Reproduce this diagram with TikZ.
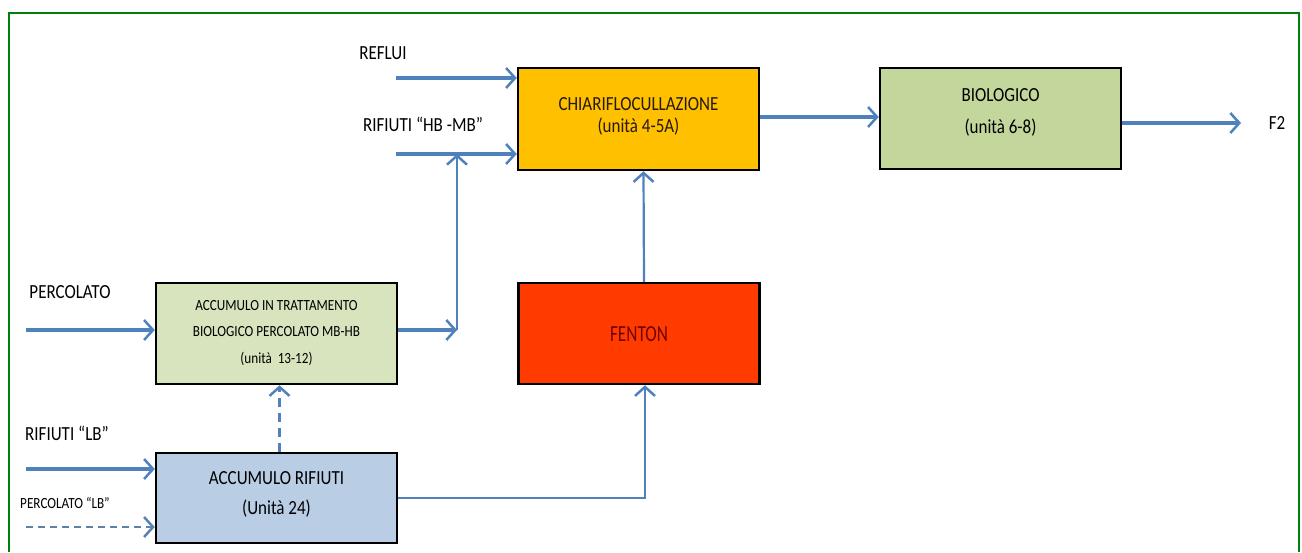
\documentclass[tikz,border=0pt]{standalone}
\usepackage{fontspec}
\setmainfont{Carlito}[FakeStretch=0.85]
\newfontfamily\narrowfont{Carlito}[FakeStretch=0.75]
\usetikzlibrary{arrows.meta}
\definecolor{framegreen}{HTML}{00800A}
\definecolor{flowblue}{HTML}{4F81BD}
\definecolor{chiarifill}{HTML}{FFC000}
\definecolor{biofill}{HTML}{C3D69B}
\definecolor{percfill}{HTML}{D7E4BD}
\definecolor{fentonfill}{HTML}{FF3B00}
\definecolor{rifiutifill}{HTML}{B9CDE5}
\newcommand{\liftup}[2]{\raisebox{#1}[\height][\depth]{\begin{tabular}{@{}c@{}}#2\end{tabular}}}
\begin{document}
\begin{tikzpicture}[x=1pt,y=-1pt,
  box/.style={draw=black,line width=2.5pt,minimum width=241pt,minimum height=101pt,align=center,inner sep=0pt},
  flow/.style={draw=flowblue,line width=3.5pt,-{Straight Barb[length=9pt,width=20pt,line width=2.5pt]}},
  link/.style={flow,line width=2.2pt},
  big/.style={font=\fontsize{20}{24}\selectfont},
  small/.style={font=\fontsize{15.5}{19}\selectfont}]
\useasboundingbox (0,0) rectangle (1302,552);
\draw[framegreen,line width=2.5pt] (9,552) -- (9,13) -- (1299,13) -- (1299,552);

\node[box,fill=chiarifill,minimum height=102pt,text=black!80!brown,font=\fontsize{20}{22}\selectfont] (chiari) at (638.5,119) {\liftup{1.5pt}{CHIARIFLOCULLAZIONE\\(unità 4-5A)}};
\node[box,fill=biofill,font=\fontsize{20}{32}\selectfont] (bio) at (1000.5,118.5) {\liftup{7pt}{BIOLOGICO\\(unità 6-8)}};
\node[box,fill=percfill,font=\fontsize{15.5}{26.5}\selectfont] (perc) at (276.5,333.5) {\liftup{2pt}{ACCUMULO IN TRATTAMENTO\\BIOLOGICO PERCOLATO MB-HB\\(unità \ 13-12)}};
\node[box,fill=fentonfill,text=red!45!black,font=\narrowfont\fontsize{23}{26}\selectfont] (fenton) at (639,333.5) {\liftup{-3pt}{FENTON}};
\node[box,fill=rifiutifill,minimum height=90pt,font=\fontsize{20}{30}\selectfont] (rifiuti) at (276.5,498) {\liftup{5pt}{ACCUMULO RIFIUTI\\(Unità 24)}};

\node[big] (reflui) at (383,53) {REFLUI};
\node[big] (hbmb) at (423,124) {RIFIUTI “HB -MB”};
\node[big] (percolato) at (70,292) {PERCOLATO};
\node[big] (lb) at (67,433) {RIFIUTI “LB”};
\node[small] (perclb) at (65,503) {PERCOLATO “LB”};
\node[big] (f2) at (1277,123) {F2};

\coordinate (refluiin) at (396,78);
\coordinate (hbin) at (396,154);
\coordinate (percin) at (26,330);
\coordinate (lbin) at (26,469);
\coordinate (perclbin) at (26,527);
\coordinate (join) at (457,330);
\coordinate (f2out) at (1241,123);

\draw[flow] (refluiin) -- (refluiin -| chiari.west);
\draw[flow] (hbin) -- (hbin -| chiari.west);
\draw[flow] (percin) -- (percin -| perc.west);
\draw[flow] (lbin) -- (lbin -| rifiuti.west);
\draw[flow,line width=1.5pt,dash pattern=on 7pt off 5pt,draw=flowblue!70!gray] (perclbin) -- (perclbin -| rifiuti.west);
\draw[flow] (join -| perc.east) -- (join);
\draw[link] (join) -- (join |- hbin);
\draw[flow] (chiari.east |- 0,117) -- (bio.west |- 0,117);
\draw[flow] (f2out -| bio.east) -- (f2out);
\draw[link] ([xshift=5pt]fenton.north) -- ([xshift=5pt]chiari.south);
\draw[link] (rifiuti.east) -| ([xshift=6pt]fenton.south);
\draw[link,line width=2.5pt,dash pattern=on 9pt off 6pt] ([xshift=3pt]rifiuti.north) -- ([xshift=3pt]perc.south);
\end{tikzpicture}
\end{document}
